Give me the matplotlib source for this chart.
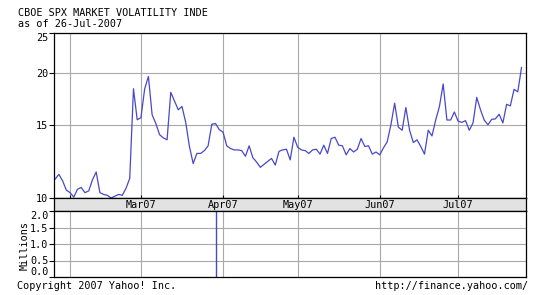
import numpy as np
import pandas as pd
import matplotlib
matplotlib.use('Agg')
import matplotlib.pyplot as plt
from matplotlib.ticker import FixedLocator, NullLocator

# Trading days shown on the chart (26-Jan-2007 .. 26-Jul-2007)
holidays = ['2007-02-19', '2007-04-06', '2007-05-28', '2007-07-04']
dates = pd.bdate_range('2007-01-26', '2007-07-26')
dates = dates[~dates.isin(pd.to_datetime(holidays))]

# VIX closes, one per trading day
vix = [11.1, 11.4, 11.0, 10.45, 10.3, 10.05, 10.5, 10.6, 10.3, 10.4,
       11.05, 11.55, 10.3, 10.2, 10.15, 10.0, 10.1, 10.2, 10.15, 10.55,
       11.15, 18.31, 15.42, 15.6, 18.3, 19.6, 15.85, 15.1, 14.2, 13.95,
       13.8, 17.95, 17.1, 16.3, 16.6, 15.2, 13.3, 12.1, 12.8, 12.8,
       13.0, 13.35, 15.05, 15.1, 14.6, 14.4, 13.35, 13.15, 13.05, 13.05,
       13.0, 12.6, 13.35, 12.5, 12.2, 11.85, 12.05, 12.25, 12.45, 12.0,
       12.95, 13.05, 13.1, 12.35, 14.0, 13.25, 13.05, 13.0, 12.8, 13.05,
       13.1, 12.75, 13.4, 12.8, 13.9, 14.0, 13.4, 13.35, 12.7, 13.15,
       12.9, 13.1, 13.9, 13.3, 13.35, 12.75, 12.9, 12.7, 13.2, 13.65,
       15.0, 16.9, 14.8, 14.55, 16.5, 14.55, 13.6, 13.8, 13.3, 12.75,
       14.55, 14.1, 15.4, 16.6, 18.8, 15.4, 15.4, 16.1, 15.3, 15.2,
       15.35, 14.55, 15.15, 17.45, 16.3, 15.4, 15.0, 15.45, 15.5, 15.9,
       15.15, 16.8, 16.65, 18.25, 18.0, 20.6]

# Volume panel: empty except for a single spike (millions)
spike_day = '2007-03-29'
spike_volume = 2.5

price_ticks = [10, 15, 20, 25]
volume_ticks = [0.0, 0.5, 1.0, 1.5, 2.0]

x = np.arange(len(dates))
volume = np.zeros(len(dates))
volume[dates == pd.Timestamp(spike_day)] = spike_volume

new_month = np.r_[False, dates.month[1:] != dates.month[:-1]]
month_pos = x[new_month]
month_lab = [d.strftime('%b%y') for d in dates[new_month]]

W, H = 547, 295
fs = 7.3
mono = 'DejaVu Sans Mono'
plt.rcParams['font.family'] = mono
line_col = '#4848c8'
grid_col = '#a8a8a8'

fig = plt.figure(figsize=(W / 100, H / 100), dpi=100)


def px(l, t, r, b):
    return [l / W, 1 - b / H, (r - l) / W, (b - t) / H]


xlim = (-0.3, 126.2)

# price panel
ax = fig.add_axes(px(54, 32.5, 526, 198))
ax.plot(x, vix, color=line_col, lw=0.9)
ax.set_yscale('log')
ax.set_ylim(10, 25)
ax.set_xlim(*xlim)
ax.yaxis.set_major_locator(FixedLocator(price_ticks))
ax.yaxis.set_minor_locator(NullLocator())
ax.set_yticklabels([str(t) for t in price_ticks])
ax.get_yticklabels()[-1].set_va('top')
ax.set_xticks(month_pos)
ax.tick_params(axis='x', direction='in', length=2.2, width=0.8, labelbottom=False)
ax.tick_params(axis='y', direction='out', length=3.6, width=0.8, pad=0.5, labelsize=fs)
ax.grid(color=grid_col, lw=0.8)

# grey date band
band = fig.add_axes(px(54, 198, 526, 211))
band.set_facecolor('#e2e2e2')
band.set_xlim(*xlim)
band.set_ylim(0, 1)
band.set_xticks([])
band.set_yticks([])
for p, lab in zip(month_pos[1:], month_lab[1:]):
    band.text(p, 0.2, lab, ha='center', va='baseline', fontsize=fs)

# volume panel
vax = fig.add_axes(px(54, 211, 526, 277))
vax.vlines(x, 0, volume, color=line_col, lw=1.0)
vax.set_xlim(*xlim)
vax.set_ylim(0, 2.0)
vax.set_yticks(volume_ticks)
vax.set_yticklabels([f'{t:.1f}' for t in volume_ticks])
vlabels = vax.get_yticklabels()
vlabels[0].set_va('bottom')
vlabels[-1].set_va('top')
vax.set_xticks(month_pos)
vax.tick_params(axis='x', length=0, labelbottom=False)
vax.tick_params(axis='y', direction='out', length=3.6, width=0.8, pad=0.5, labelsize=fs)
vax.grid(color=grid_col, lw=0.8)

for a in (ax, band, vax):
    for s in a.spines.values():
        s.set_linewidth(0.9)
        s.set_color('black')

fig.text(25 / W, 1 - 246 / H, 'Millions', rotation=90, ha='center', va='center', fontsize=fs)
fig.text(18 / W, 1 - 15.7 / H, 'CBOE SPX MARKET VOLATILITY INDE', va='baseline', fontsize=fs)
fig.text(18 / W, 1 - 26.7 / H, 'as of 26-Jul-2007', va='baseline', fontsize=fs)
fig.text(17 / W, 1 - 289 / H, 'Copyright 2007 Yahoo! Inc.', va='baseline', fontsize=fs)
fig.text(528 / W, 1 - 289 / H, 'http://finance.yahoo.com/', ha='right', va='baseline', fontsize=fs)

fig.savefig('out.png', dpi=100)
